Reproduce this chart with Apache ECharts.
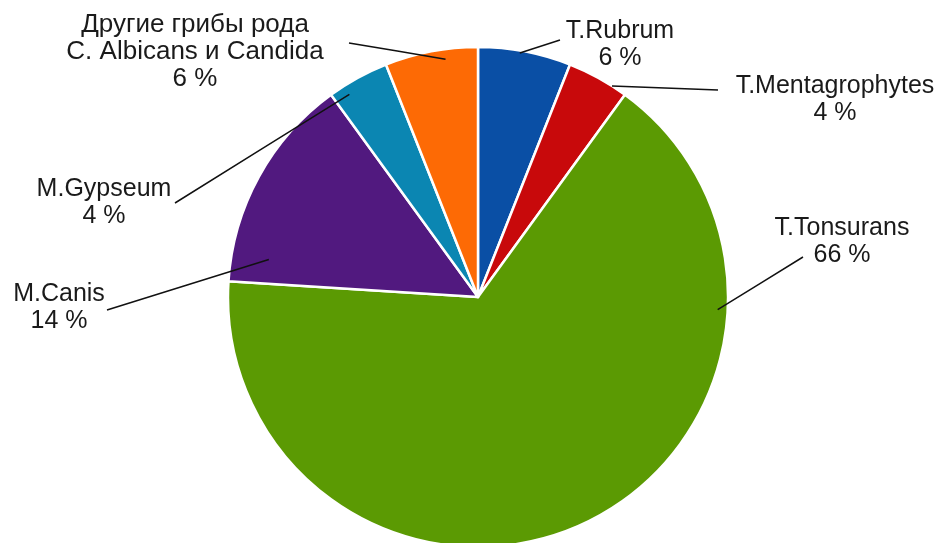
<!DOCTYPE html>
<html><head><meta charset="utf-8">
<script src="https://cdn.jsdelivr.net/npm/echarts@6/dist/echarts.min.js"></script>
<style>html,body{margin:0;background:#fff}#c{width:938px;height:543px}</style>
</head><body><div id="c"></div>
<script>
// Distribution of dermatophyte species (%), clockwise from 12 o'clock
const categories = ['T.Rubrum', 'T.Mentagrophytes', 'T.Tonsurans', 'M.Canis', 'M.Gypseum', 'Другие грибы рода\nC. Albicans и Candida'];
const shares = [6, 4, 66, 14, 4, 6];
const colors = ['#0a4fa5', '#c8090b', '#5b9a03', '#51197f', '#0b86b2', '#fd6a05'];

// pie geometry (px)
const CX = 478, CY = 297, R = 250;
// label text block centres, leader line end points, and leader start as
// (fraction across the slice's sweep, fraction of the radius)
const labelCenters = [[620, 45], [835, 100], [842, 242], [59, 308], [104, 203], [195, 52]];
const leaderEnds = [[560, 40], [718, 90], [803, 257], [107, 310], [175, 203], [349, 43]];
const leaderAnchors = [[0.45, 0.99], [0.75, 1.0], [0.24, 0.96], [0.13, 0.85], [0.25, 0.96], [0.64, 0.96]];

const total = shares.reduce((a, b) => a + b, 0);
const startAngles = [];
let acc = 0;
shares.forEach(v => { startAngles.push(acc / total * 360); acc += v; });

function anchorPoint(i) {
  const f = leaderAnchors[i][0], rf = leaderAnchors[i][1];
  const a = (startAngles[i] + f * shares[i] / total * 360) * Math.PI / 180;
  return [CX + R * rf * Math.sin(a), CY - R * rf * Math.cos(a)];
}

const pieBase = {
  type: 'pie',
  center: [CX, CY],
  radius: R,
  startAngle: 90,
  clockwise: true,
  avoidLabelOverlap: false,
  emphasis: { disabled: true },
  silent: true
};

const chart = echarts.init(document.getElementById('c'), null, { renderer: 'canvas' });
chart.setOption({
  backgroundColor: '#ffffff',
  animation: false,
  series: [
    // coloured slices
    Object.assign({}, pieBase, {
      z: 2,
      itemStyle: { borderColor: '#ffffff', borderWidth: 2.5 },
      label: { show: false },
      labelLine: { show: false },
      data: categories.map((name, i) => ({
        name: name, value: shares[i], itemStyle: { color: colors[i] }
      }))
    }),
    // same slices, transparent, carrying the labels and leader lines on top
    Object.assign({}, pieBase, {
      z: 5,
      itemStyle: { color: 'rgba(0,0,0,0)', borderWidth: 0 },
      label: {
        show: true,
        position: 'outside',
        formatter: '{b}\n{c} %',
        fontFamily: '"Liberation Sans", Arial, sans-serif',
        fontSize: 25,
        lineHeight: 27,
        color: '#1a1a1a',
        opacity: 1,
        align: 'center'
      },
      labelLine: { show: true, lineStyle: { color: '#111111', width: 1.5, opacity: 1 } },
      labelLayout: function (params) {
        const i = params.dataIndex;
        const s = anchorPoint(i), e = leaderEnds[i];
        return {
          x: labelCenters[i][0],
          y: labelCenters[i][1],
          align: 'center',
          verticalAlign: 'middle',
          labelLinePoints: [s, [(s[0] + e[0]) / 2, (s[1] + e[1]) / 2], e]
        };
      },
      data: categories.map((name, i) => ({
        name: name, value: shares[i],
        label: i === 5 ? { fontSize: 26, lineHeight: 27 } : undefined
      }))
    })
  ]
});
</script>
</body></html>
